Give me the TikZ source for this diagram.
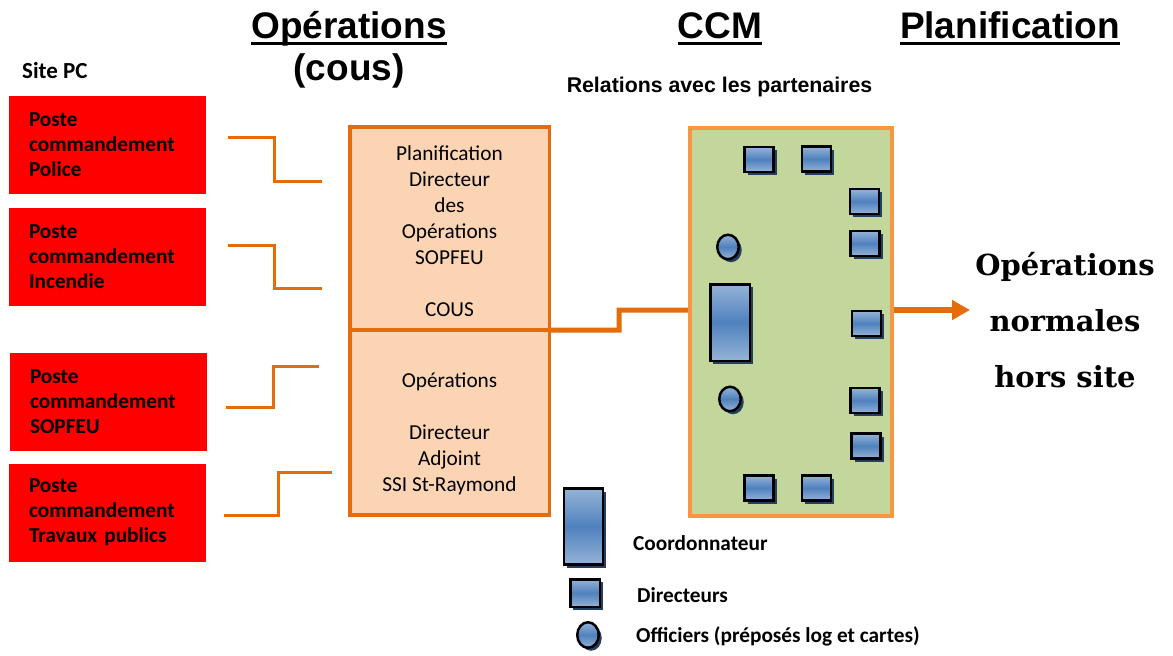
\documentclass[tikz,border=0pt]{standalone}
\usepackage{fontspec}
\setmainfont{Carlito}
\newfontfamily\arialf{Liberation Sans}
\newfontfamily\serifbf{DejaVu Serif}
\usetikzlibrary{shapes.geometric,shadows,arrows.meta}
\definecolor{org}{HTML}{E46C0A}
\definecolor{orglight}{HTML}{F79646}
\definecolor{peach}{HTML}{FBD4B4}
\definecolor{ccmgreen}{HTML}{C3D69B}
\definecolor{pcred}{HTML}{FF0000}
\definecolor{lblue}{HTML}{95B3D7}
\definecolor{mblue}{HTML}{4F81BD}
\definecolor{shblue}{HTML}{243F60}
\tikzset{
  pcbox/.style={fill=pcred, draw=none, minimum width=197pt, minimum height=98pt,
    text width=157pt, inner xsep=20pt, inner ysep=0pt, align=left,
    font=\bfseries\fontsize{21.3}{25}\selectfont},
  conn/.style={draw=org, line width=3pt},
  opsbox/.style={draw=org, fill=peach, line width=3.5pt, minimum width=199.5pt, inner sep=0pt, outer sep=0pt},
  opstext/.style={align=center, inner sep=0pt, font=\fontsize{21.3}{26}\selectfont},
  ccmbox/.style={draw=orglight, fill=ccmgreen, line width=4pt, minimum width=202pt, minimum height=388pt, inner sep=0pt},
  piece/.style={draw=black, line width=2.5pt, top color=lblue, bottom color=lblue, middle color=mblue,
    inner sep=0pt, drop shadow={shadow xshift=3pt, shadow yshift=-3pt, fill=shblue, opacity=1}},
  dirbox/.style={piece, rectangle, minimum width=29pt, minimum height=25pt},
  coordbox/.style={piece, rectangle, minimum width=39pt, minimum height=76pt},
  offic/.style={piece, ellipse, minimum width=21.5pt, minimum height=24.5pt},
  head/.style={inner sep=0pt, font=\arialf\bfseries\fontsize{37}{40}\selectfont},
  legend/.style={inner sep=0pt, anchor=base west, font=\bfseries\fontsize{21.3}{24}\selectfont},
  uline/.style={line width=3pt, draw=black}
}
\begin{document}
\begin{tikzpicture}[x=1pt,y=-1pt]
\useasboundingbox (0,0) rectangle (1173,656);

% headings
\node[head, anchor=base] (h1) at (349,38) {Opérations};
\node[head, anchor=base] (h1b) at (349,80) {(cous)};
\node[head, anchor=base] (h2) at (720,38) {CCM};
\node[head, anchor=base] (h3) at (1010,38) {Planification};
\draw[uline] ([yshift=-5.5pt]h1.base west) -- ([yshift=-5.5pt]h1.base east);
\draw[uline] ([yshift=-5.5pt]h2.base west) -- ([yshift=-5.5pt]h2.base east);
\draw[uline] ([yshift=-5.5pt]h3.base west) -- ([yshift=-5.5pt]h3.base east);
\node[inner sep=0pt, anchor=base, font=\arialf\bfseries\fontsize{21.3}{24}\selectfont] (rel) at (719.5,92) {Relations avec les partenaires};
\node[inner sep=0pt, anchor=base west, font=\bfseries\fontsize{23}{24}\selectfont] (site) at (22,78) {Site PC};

% red boxes
\node[pcbox] (pc1) at (107.5,145) {Poste\\commandement\\Police};
\node[pcbox] (pc2) at (107.5,256.5) {Poste\\commandement\\Incendie};
\node[pcbox] (pc3) at (108.5,401.5) {Poste\\commandement\\SOPFEU};
\node[pcbox] (pc4) at (107.5,512.5) {Poste\\commandement\\Travaux publics};

% left connectors
\coordinate (a1) at (228,137); \coordinate (b1) at (322,181);
\coordinate (a2) at (228,245); \coordinate (b2) at (322,288);
\coordinate (a3) at (226,407); \coordinate (b3) at (319,366);
\coordinate (a4) at (224,515); \coordinate (b4) at (332,472);
\draw[conn] (a1) -- (274,137) |- (b1);
\draw[conn] (a2) -- (274,245) |- (b2);
\draw[conn] (a3) -- (273,407) |- (b3);
\draw[conn] (a4) -- (278,515) |- (b4);

% COUS box
\node[opsbox, minimum height=203.25pt] (ctop) at (449.5,228.4) {};
\node[opsbox, minimum height=185.25pt] (cbot) at (449.5,422.6) {};
\node[opstext] (ttop) at (449.5,231) {Planification\\Directeur\\des\\Opérations\\SOPFEU\\[26pt]COUS};
\node[opstext] (tbot) at (449.5,434) {Opérations\\[26pt]Directeur\\Adjoint\\SSI St-Raymond};

% CCM box
\node[ccmbox] (ccm) at (791,322) {};
\coordinate (lvl) at (0,310);
\draw[draw=org, line width=5pt] (ctop.south east) -- (619,330) -- (619,310) -- (ccm.west |- lvl);

% pieces in CCM
\node[dirbox] (dA) at (759,159.5) {};
\node[dirbox] (dB) at (816.5,159) {};
\node[dirbox] (dC) at (864.5,201.5) {};
\node[dirbox] (dD) at (865,243.5) {};
\node[dirbox] (dG) at (866.5,323.5) {};
\node[dirbox] (dI) at (865,400.5) {};
\node[dirbox] (dJ) at (866,446) {};
\node[dirbox] (dK) at (759,488) {};
\node[dirbox] (dL) at (816.5,488) {};
\node[offic] (oE) at (728,247) {};
\node[offic] (oH) at (730,399) {};
\node[piece, rectangle, minimum width=39.5pt, minimum height=76.5pt] (cF) at (730,322.5) {};

% arrow out
\coordinate (arrend) at (970,310);
\draw[draw=org, line width=6pt, -{Triangle[length=18pt,width=19pt]}] (ccm.east |- lvl) -- (arrend);
\node[align=center, inner sep=0pt, font=\serifbf\bfseries\fontsize{29}{56}\selectfont] (opn) at (1065,320) {Opérations\\normales\\hors site};

% legend
\node[coordbox] (lc) at (583.5,526.5) {};
\node[dirbox, minimum width=29.5pt, minimum height=27.5pt] (ld) at (585,593) {};
\node[offic, minimum height=25.5pt] (lo) at (588,635) {};
\node[legend] (tc) at (633,550) {Coordonnateur};
\node[legend] (td) at (637,602) {Directeurs};
\node[legend] (to) at (636,642) {Officiers (préposés log et cartes)};
\end{tikzpicture}
\end{document}
